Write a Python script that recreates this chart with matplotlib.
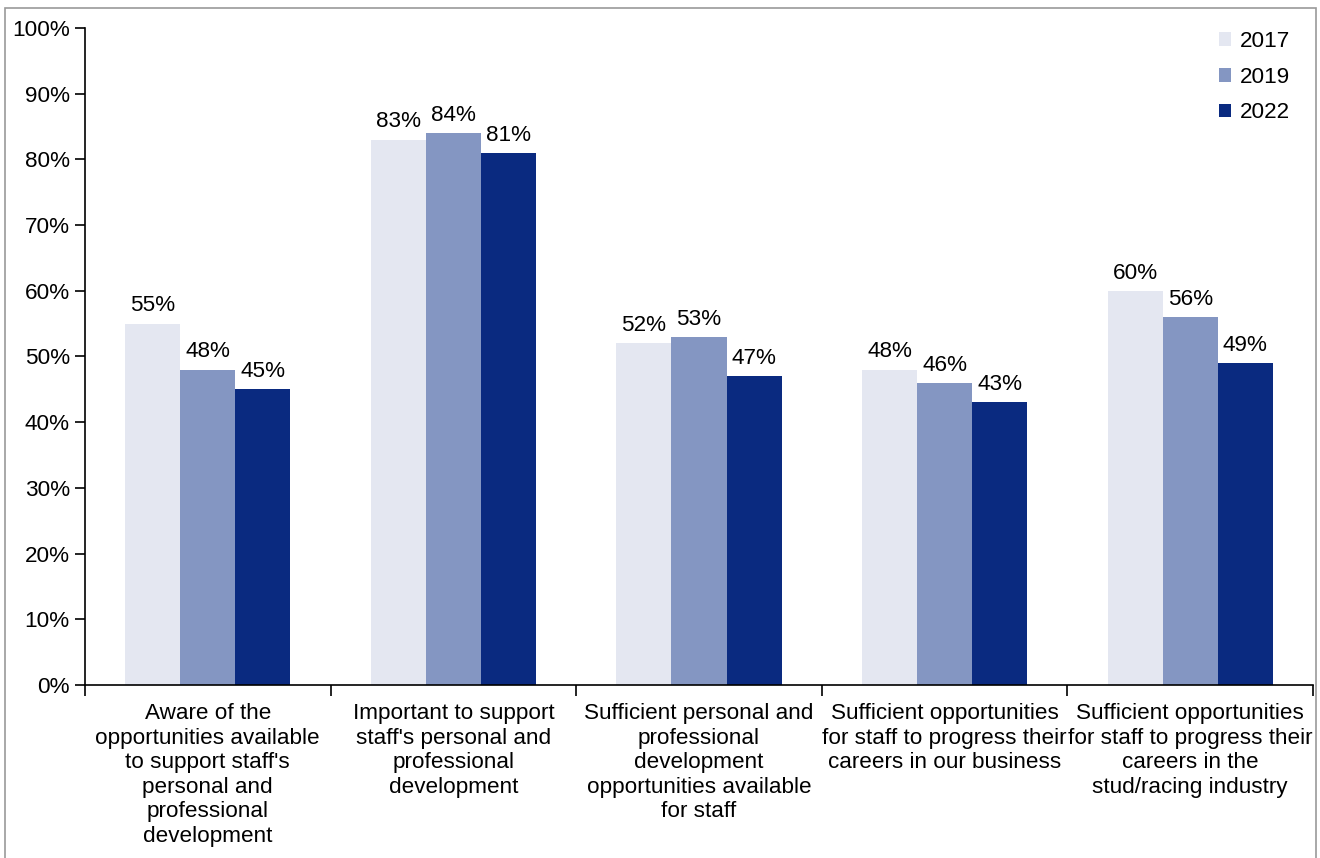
import numpy as np
import matplotlib.pyplot as plt
from matplotlib.patches import Rectangle
from matplotlib.ticker import FuncFormatter, MultipleLocator

plt.rcParams['font.family'] = ['Liberation Sans', 'DejaVu Sans']

categories = [
    "Aware of the\nopportunities available\nto support staff's\npersonal and\nprofessional\ndevelopment",
    "Important to support\nstaff's personal and\nprofessional\ndevelopment",
    "Sufficient personal and\nprofessional\ndevelopment\nopportunities available\nfor staff",
    "Sufficient opportunities\nfor staff to progress their\ncareers in our business",
    "Sufficient opportunities\nfor staff to progress their\ncareers in the\nstud/racing industry",
]
years = ["2017", "2019", "2022"]
vals_2017 = [55, 83, 52, 48, 60]
vals_2019 = [48, 84, 53, 46, 56]
vals_2022 = [45, 81, 47, 43, 49]
colors = ["#E4E7F1", "#8496C2", "#0A2A80"]

fs = 16.2

fig = plt.figure(figsize=(13.2, 8.58), dpi=100)
ax = fig.add_axes([0.0644, 0.2016, 0.9303, 0.7658])

x = np.arange(len(categories))
width = 0.224
for i, (vals, yr) in enumerate(zip([vals_2017, vals_2019, vals_2022], years)):
    bars = ax.bar(x + (i - 1) * width, vals, width, color=colors[i], label=yr)
    for b, v in zip(bars, vals):
        ax.text(b.get_x() + b.get_width() / 2, v + 1.1, f"{v}%",
                ha='center', va='bottom', fontsize=fs)

ax.set_xlim(-0.5, len(categories) - 0.5)
ax.set_ylim(0, 100)
ax.yaxis.set_major_locator(MultipleLocator(10))
ax.yaxis.set_major_formatter(FuncFormatter(lambda v, _: f"{v:.0f}%"))
ax.tick_params(axis='y', labelsize=fs, length=7, width=1.2, direction='out', pad=4)

# category labels, ticks drawn between groups
ax.set_xticks(x)
ax.set_xticklabels(categories, fontsize=fs, linespacing=1.22, va='top')
ax.tick_params(axis='x', which='major', length=0, pad=13)
ax.set_xticks(np.arange(-0.5, len(categories)), minor=True)
ax.tick_params(axis='x', which='minor', length=8, width=1.2, direction='out')

for s in ['top', 'right']:
    ax.spines[s].set_visible(False)
ax.spines['left'].set_linewidth(1.2)
ax.spines['bottom'].set_linewidth(1.2)

ax.legend(loc='upper right', bbox_to_anchor=(0.998, 1.026), frameon=False,
          fontsize=fs, handlelength=0.55, handleheight=0.55, handletextpad=0.4,
          labelspacing=0.65)

# thin grey frame round the figure
fig.patches.append(Rectangle((5 / 1320, -0.01), 1311 / 1320, 1.01 - 8 / 858,
                             transform=fig.transFigure, fill=False,
                             edgecolor='#9A9A9A', linewidth=1.2))

fig.savefig("out.png", dpi=100)
